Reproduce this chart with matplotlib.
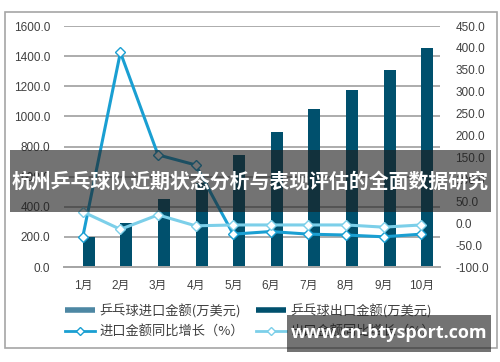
import numpy as np
import matplotlib.pyplot as plt
from matplotlib.lines import Line2D
from matplotlib.patches import Rectangle

plt.rcParams['font.family'] = ['Liberation Sans', 'Noto Sans CJK SC', 'DejaVu Sans']

months = ["1月", "2月", "3月", "4月", "5月", "6月", "7月", "8月", "9月", "10月"]
import_amt = [6, 6, 6, 6, 6, 6, 6, 6, 6, 8]
export_amt = [202, 293, 453, 560, 747, 895, 1051, 1178, 1305, 1455]
import_growth = [-31, 390, 156, 133, -25, -19, -25, -27, -31, -25]
export_growth = [26, -14, 19, -6, -4, -4, -4, -4, -9, -4]

c_imp_bar = "#4d87a3"
c_exp_bar = "#00506d"
c_imp_line = "#1a9fd2"
c_exp_line = "#7ccfe9"
txt = "#404040"

fig = plt.figure(figsize=(5, 3.62), dpi=100)
ax = fig.add_axes([0.128, 0.2624, 0.752, 0.6656])
ax2 = ax.twinx()

x = np.arange(len(months))
w = 0.32
ax.bar(x - 0.16, import_amt, width=w, color=c_imp_bar, zorder=2)
ax.bar(x + 0.16, export_amt, width=w, color=c_exp_bar, zorder=2)

ax2.plot(x, import_growth, color=c_imp_line, lw=2.2, marker="D", ms=5,
         mfc="white", mec=c_imp_line, mew=1.0, zorder=3)
ax2.plot(x, export_growth, color=c_exp_line, lw=2.2, marker="D", ms=5,
         mfc="white", mec=c_exp_line, mew=1.0, zorder=3)

ax.set_xlim(-0.5, len(months) - 0.5)
ax.set_ylim(0, 1600)
ax.set_yticks(np.arange(0, 1601, 200))
ax.set_yticklabels([f"{v:.1f}" for v in np.arange(0, 1601, 200)])
ax2.set_ylim(-100, 450)
ax2.set_yticks(np.arange(-100, 451, 50))
ax2.set_yticklabels([f"{v:.1f}" for v in np.arange(-100, 451, 50)])
ax.set_xticks(x)
ax.set_xticklabels(months)

ax.grid(axis="y", color="#a6a6a6", lw=1.3, zorder=0)
ax.set_axisbelow(True)
for a in (ax, ax2):
    for s in ("top", "left", "right"):
        a.spines[s].set_visible(False)
    a.spines["bottom"].set_color("#a6a6a6")
    a.spines["bottom"].set_linewidth(1.3)
    a.tick_params(length=0, labelsize=8.5, colors=txt)
ax.tick_params(axis="y", pad=10)
ax.tick_params(axis="x", pad=9)
ax2.tick_params(axis="y", pad=11)

handles = [
    Line2D([0], [0], color=c_imp_bar, lw=4, solid_capstyle="butt"),
    Line2D([0], [0], color=c_imp_line, lw=2, marker="D", ms=4, mfc="white", mec=c_imp_line),
    Line2D([0], [0], color=c_exp_bar, lw=4, solid_capstyle="butt"),
    Line2D([0], [0], color=c_exp_line, lw=2, marker="D", ms=4, mfc="white", mec=c_exp_line),
]
labels = ["乒乓球进口金额(万美元)", "进口金额同比增长（%）",
          "乒乓球出口金额(万美元)", "出口金额同比增长（%）"]
fig.legend(handles, labels, ncol=2, loc="center", bbox_to_anchor=(0.5, 0.113),
           frameon=False, prop={"family": ["Noto Sans CJK SC"], "size": 9.5},
           labelcolor=txt, handlelength=2.3, handletextpad=0.3,
           columnspacing=0.9, labelspacing=0.55)

# outer frame
fig.patches.append(Rectangle((0.01, 0.039), 0.984, 0.928, transform=fig.transFigure,
                             fill=False, edgecolor="#a6a6a6", lw=1.2))

# title banner
fig.patches.append(Rectangle((0.02, 0.414), 0.962, 0.171, transform=fig.transFigure,
                             facecolor="#1e1e1e", alpha=0.62, edgecolor="none", zorder=10))
fig.text(0.5, 0.4995, "杭州乒乓球队近期状态分析与表现评估的全面数据研究",
         ha="center", va="center", color="white", fontsize=14.3, fontweight="bold",
         family=["Noto Sans CJK SC"], zorder=11)

# watermark
fig.patches.append(Rectangle((0.574, 0.029), 0.408, 0.101, transform=fig.transFigure,
                             facecolor="#1e1e1e", alpha=0.62, edgecolor="none", zorder=10))
fig.text(0.778, 0.08, "www.cn-btysport.com", ha="center", va="center", color="white",
         fontsize=13, fontweight="bold", family=["Open Sans", "DejaVu Sans"], zorder=11)

fig.savefig("out.png", dpi=100)
